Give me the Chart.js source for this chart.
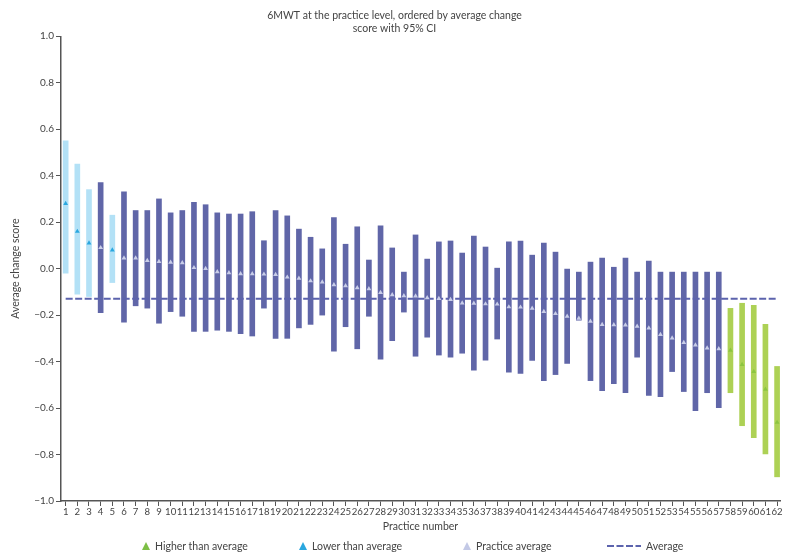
<!DOCTYPE html>
<html>
<head>
<meta charset="utf-8">
<script src="https://cdn.jsdelivr.net/npm/chart.js@4.4.1/dist/chart.umd.min.js"></script>
<style>
  body { margin: 0; background: #fff; }
  #wrap { position: relative; width: 787px; height: 558px; }
  #legend { position: absolute; left: 0; top: 538px; width: 787px; height: 16px;
            font: 10.5px Lato, sans-serif; color: #444; }
  #legend .item { position: absolute; top: 0; display: flex; align-items: center; height: 16px; }
  #legend svg { margin-right: 5px; }
</style>
</head>
<body>
<div id="wrap">
  <canvas id="chartCanvas"></canvas>
  <div id="legend">
    <div class="item" style="left:142px"><svg width="8" height="8"><polygon points="4,0 8,8 0,8" fill="#7dbf45"/></svg>Higher than average</div>
    <div class="item" style="left:299px"><svg width="8" height="8"><polygon points="4,0 8,8 0,8" fill="#2aa7df"/></svg>Lower than average</div>
    <div class="item" style="left:463px"><svg width="8" height="8"><polygon points="4,0 8,8 0,8" fill="#c3c9e6"/></svg>Practice average</div>
    <div class="item" style="left:607px"><svg width="34" height="4"><line x1="0" y1="2" x2="34" y2="2" stroke="#5c63ad" stroke-width="2" stroke-dasharray="7,2.5"/></svg>Average</div>
  </div>
</div>
<script>
const practiceNumbers = [1, 2, 3, 4, 5, 6, 7, 8, 9, 10, 11, 12, 13, 14, 15, 16, 17, 18, 19, 20,
    21, 22, 23, 24, 25, 26, 27, 28, 29, 30, 31, 32, 33, 34, 35, 36, 37, 38, 39, 40,
    41, 42, 43, 44, 45, 46, 47, 48, 49, 50, 51, 52, 53, 54, 55, 56, 57, 58, 59, 60, 61, 62];

const meanScores = [0.28, 0.16, 0.11, 0.09, 0.08, 0.045, 0.045, 0.035, 0.03, 0.027,
    0.025, 0.004, 0.0, -0.014, -0.018, -0.022, -0.022, -0.024, -0.026, -0.037,
    -0.042, -0.053, -0.058, -0.07, -0.074, -0.083, -0.087, -0.103, -0.113, -0.117,
    -0.118, -0.126, -0.129, -0.133, -0.148, -0.149, -0.152, -0.153, -0.165, -0.166,
    -0.171, -0.185, -0.194, -0.205, -0.214, -0.227, -0.241, -0.242, -0.243, -0.248,
    -0.256, -0.284, -0.299, -0.318, -0.329, -0.342, -0.345, -0.352, -0.413, -0.443,
    -0.519, -0.662];

const lowerCI = [-0.02, -0.11, -0.12, -0.19, -0.06, -0.23, -0.16, -0.17, -0.235, -0.185,
    -0.205, -0.27, -0.27, -0.265, -0.27, -0.28, -0.29, -0.17, -0.30, -0.30,
    -0.255, -0.24, -0.20, -0.355, -0.25, -0.345, -0.205, -0.39, -0.31, -0.187,
    -0.377, -0.295, -0.372, -0.381, -0.364, -0.437, -0.394, -0.303, -0.446, -0.451,
    -0.395, -0.482, -0.456, -0.408, -0.222, -0.482, -0.525, -0.495, -0.534, -0.381,
    -0.546, -0.551, -0.443, -0.529, -0.611, -0.534, -0.598, -0.534, -0.676, -0.728,
    -0.797, -0.896];

const upperCI = [0.55, 0.45, 0.34, 0.37, 0.23, 0.33, 0.25, 0.25, 0.30, 0.24,
    0.25, 0.285, 0.275, 0.24, 0.235, 0.235, 0.245, 0.12, 0.25, 0.227,
    0.17, 0.135, 0.085, 0.22, 0.105, 0.18, 0.037, 0.184, 0.089, -0.015,
    0.145, 0.041, 0.115, 0.119, 0.067, 0.14, 0.093, 0.002, 0.115, 0.119,
    0.058, 0.11, 0.071, -0.002, -0.015, 0.028, 0.045, 0.006, 0.045, -0.015,
    0.032, -0.015, -0.015, -0.015, -0.015, -0.015, -0.015, -0.171, -0.149, -0.158,
    -0.24, -0.421];

const averageScore = -0.13;

const yTicks = [-1.0, -0.8, -0.6, -0.4, -0.2, 0.0, 0.2, 0.4, 0.6, 0.8, 1.0];

// colours by how the interval sits against the overall average
const barColors = practiceNumbers.map((p, i) => {
    if (lowerCI[i] > averageScore) return "#b3e1f6";
    if (upperCI[i] < averageScore) return "#add155";
    return "#6066a8";
});
const markerColors = practiceNumbers.map((p, i) => {
    if (lowerCI[i] > averageScore) return "#2aa7df";
    if (upperCI[i] < averageScore) return "#8cc540";
    return "#c8cde8";
});

const axisColor = "#555";
const textColor = "#444";
const fontFamily = "Lato, sans-serif";

new Chart(document.getElementById("chartCanvas"), {
    type: "bar",
    data: {
        datasets: [
            {
                type: "line",
                label: "Practice average",
                data: practiceNumbers.map((p, i) => ({ x: p, y: meanScores[i] })),
                showLine: false,
                pointStyle: "triangle",
                pointRadius: 2.8,
                pointBorderWidth: 0,
                pointBackgroundColor: markerColors,
                clip: false,
                order: 0
            },
            {
                type: "line",
                label: "Average",
                data: [
                    { x: practiceNumbers[0], y: averageScore },
                    { x: practiceNumbers[practiceNumbers.length - 1], y: averageScore }
                ],
                borderColor: "#5c63ad",
                borderWidth: 2,
                borderDash: [7, 2.5],
                pointRadius: 0,
                order: 1
            },
            {
                label: "95% CI",
                data: practiceNumbers.map((p, i) => ({ x: p, y: [lowerCI[i], upperCI[i]] })),
                backgroundColor: barColors,
                barThickness: 5,
                clip: false,
                order: 2
            }
        ]
    },
    options: {
        responsive: true,
        maintainAspectRatio: false,
        animation: false,
        devicePixelRatio: 1,
        layout: { padding: { left: 9, right: 7, top: 0, bottom: 23 } },
        plugins: {
            legend: { display: false },
            tooltip: { enabled: false },
            title: {
                display: true,
                text: ["6MWT at the practice level, ordered by average change", "score with 95% CI"],
                color: textColor,
                font: { family: fontFamily, size: 10.5, weight: "normal", lineHeight: 1.25 },
                padding: { top: 9, bottom: 1 }
            }
        },
        scales: {
            x: {
                type: "linear",
                offset: false,
                min: 0.6,
                max: 62.25,
                afterFit: scale => { scale.height = 34; },
                border: { display: true, color: axisColor, width: 1.5 },
                grid: { offset: false, drawOnChartArea: false, drawTicks: true, tickLength: 5, color: axisColor, lineWidth: 1 },
                ticks: {
                    stepSize: 1,
                    includeBounds: false,
                    autoSkip: false,
                    maxRotation: 0,
                    padding: 0,
                    color: textColor,
                    font: { family: fontFamily, size: 9.6 },
                    callback: v => practiceNumbers.includes(v) ? String(v) : ""
                },
                title: {
                    display: true,
                    text: "Practice number",
                    color: textColor,
                    font: { family: fontFamily, size: 10.5 },
                    padding: { top: 0, bottom: 2 }
                }
            },
            y: {
                min: -1,
                max: 1,
                afterFit: scale => { scale.width = 52; },
                afterBuildTicks: scale => { scale.ticks = yTicks.map(v => ({ value: v })); },
                border: { display: true, color: axisColor, width: 1.5 },
                grid: { drawOnChartArea: false, drawTicks: true, tickLength: 5, color: axisColor, lineWidth: 1 },
                ticks: {
                    padding: 2,
                    color: textColor,
                    font: { family: fontFamily, size: 10 },
                    callback: v => (v < 0 ? "\u2212" : "") + Math.abs(v).toFixed(1)
                },
                title: {
                    display: true,
                    text: "Average change score",
                    color: textColor,
                    font: { family: fontFamily, size: 10.5 },
                    padding: { top: 0, bottom: 4 }
                }
            }
        }
    }
});
</script>
</body>
</html>
